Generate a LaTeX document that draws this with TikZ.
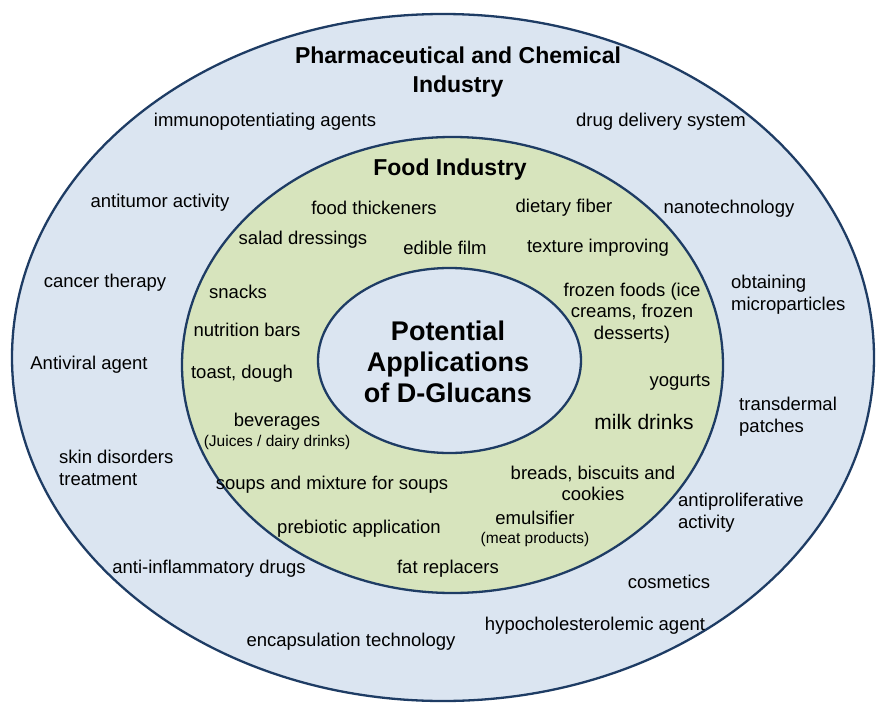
\documentclass[tikz,border=0pt]{standalone}
\usepackage{fontspec}
\setmainfont{Liberation Sans}

\definecolor{pharmablue}{HTML}{DBE5F1}
\definecolor{foodgreen}{HTML}{D7E4BD}
\definecolor{ringline}{HTML}{1E3C64}

\begin{document}
\begin{tikzpicture}[x=1pt, y=-1pt,
    ring/.style={draw=ringline, line width=2.3pt},
    txt/.style={font=\fontsize{18.5}{21.5}\selectfont, inner sep=0pt, align=center},
    small/.style={font=\fontsize{15.5}{18}\selectfont, inner sep=0pt},
    head/.style={font=\bfseries\fontsize{23}{29.5}\selectfont, inner sep=0pt, align=center},
    core/.style={font=\bfseries\fontsize{27}{31}\selectfont, inner sep=0pt, align=center}]

    \useasboundingbox [fill=white] (0, 0) rectangle (879, 704);

    % three rings, outside in
    \draw [ring, fill=pharmablue] (443, 357.5) ellipse [x radius=431, y radius=343.5];
    \draw [ring, fill=foodgreen] (452.5, 365) ellipse [x radius=270.5, y radius=228];
    \draw [ring, fill=pharmablue] (449.5, 360.5) ellipse [x radius=131.5, y radius=92.5];

    % outer ring
    \node [head] (pharma) at (458, 72) {Pharmaceutical and Chemical\\Industry};
    \node [txt] (immuno) at (265, 122) {immunopotentiating agents};
    \node [txt] (delivery) at (661, 122) {drug delivery system};
    \node [txt] (antitumor) at (160, 203) {antitumor activity};
    \node [txt] (nano) at (729, 209) {nanotechnology};
    \node [txt] (cancer) at (105, 283) {cancer therapy};
    \node [txt, anchor=west, align=left] (micro) at (731, 294.5) {obtaining\\microparticles};
    \node [txt] (antiviral) at (89, 365) {Antiviral agent};
    \node [txt, anchor=west, align=left] (patches) at (739, 416.5) {transdermal\\patches};
    \node [txt, anchor=west, align=left] (skin) at (59, 468) {skin disorders\\treatment};
    \node [txt, anchor=west, align=left] (antiprolif) at (678, 512.5) {antiproliferative\\activity};
    \node [txt] (antiinfl) at (209, 569) {anti-inflammatory drugs};
    \node [txt] (cosmetics) at (669, 582) {cosmetics};
    \node [txt] (hypochol) at (595, 626) {hypocholesterolemic agent};
    \node [txt] (encaps) at (351, 642) {encapsulation technology};

    % food ring
    \node [head] (food) at (450, 170) {Food Industry};
    \node [txt] (thick) at (374, 208) {food thickeners};
    \node [txt] (fiber) at (564, 208) {dietary fiber};
    \node [txt] (salad) at (303, 240) {salad dressings};
    \node [txt] (film) at (445, 248) {edible film};
    \node [txt] (texture) at (598, 248) {texture improving};
    \node [txt] (snacks) at (238, 292) {snacks};
    \node [txt] (frozen) at (632, 313) {frozen foods (ice\\creams, frozen\\desserts)};
    \node [txt] (bars) at (247, 330) {nutrition bars};
    \node [txt] (toast) at (242, 374) {toast, dough};
    \node [txt] (yogurts) at (680, 382) {yogurts};
    \node [txt] (bev) at (277, 422) {beverages};
    \node [small] (juices) at (277, 442) {(Juices / dairy drinks)};
    \node [txt, font=\fontsize{21}{24}\selectfont] (milk) at (644, 422) {milk drinks};
    \node [txt] (breads) at (593, 483.5) {breads, biscuits and\\cookies};
    \node [txt] (soups) at (332, 485) {soups and mixture for soups};
    \node [txt] (emuls) at (535, 518) {emulsifier};
    \node [small] (meat) at (535, 539) {(meat products)};
    \node [txt] (prebiotic) at (359, 529) {prebiotic application};
    \node [txt] (fat) at (448, 569) {fat replacers};

    % centre
    \node [core] (glucans) at (448, 362) {Potential\\Applications\\of D-Glucans};
\end{tikzpicture}
\end{document}
